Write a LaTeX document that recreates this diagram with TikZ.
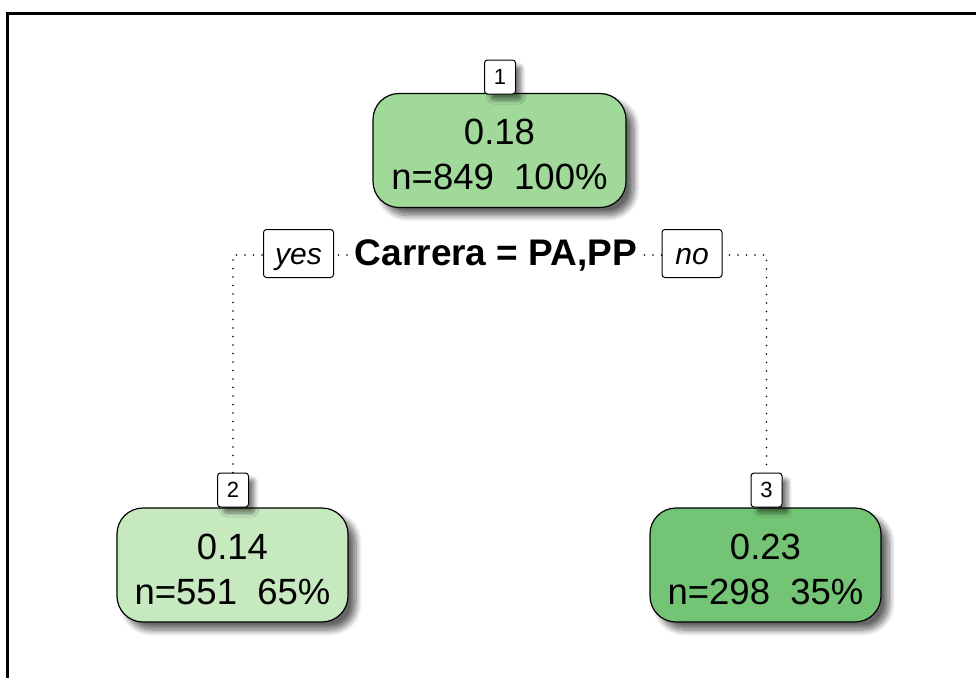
\documentclass[tikz,border=0pt]{standalone}
\usepackage{fontspec}
\setmainfont{Liberation Sans}
\usetikzlibrary{shadows.blur}

\definecolor{rootgreen}{HTML}{A1D99B}
\definecolor{lightgreen}{HTML}{C7E9C0}
\definecolor{darkgreen}{HTML}{74C476}

\tikzset{
  frame/.style={line width=3pt},
  leaf/.style={draw, line width=1.2pt, rounded corners=26pt,
    minimum width=231pt, minimum height=114pt, align=center,
    font=\fontsize{36.5}{45}\selectfont, text height=78pt, text depth=0pt,
    blur shadow={shadow xshift=8pt, shadow yshift=-8pt, shadow blur steps=10,
      shadow blur radius=6pt, shadow opacity=60}},
  numbox/.style={draw, fill=white, line width=1pt, rounded corners=3pt,
    minimum width=31pt, minimum height=34pt, inner sep=0pt,
    font=\fontsize{22}{22}\selectfont,
    blur shadow={shadow xshift=6pt, shadow yshift=-6pt, shadow blur steps=6,
      shadow blur radius=4pt, shadow opacity=50}},
  sidebox/.style={draw, fill=white, line width=1pt, rounded corners=3pt,
    minimum height=48pt, inner sep=0pt, text height=21pt, text depth=0pt,
    font=\fontsize{30}{30}\selectfont\itshape},
  branch/.style={line width=1.8pt, line cap=round, dash pattern=on 0pt off 8.5pt}
}

\begin{document}
\begin{tikzpicture}
    [x=1pt, y=-1pt]

    \useasboundingbox (0,0) rectangle (976,678);
    \draw [frame] (7,678) |- (976,13);

    % tree nodes
    \node [leaf, fill=rootgreen, minimum width=253pt] at (499.5, 150.5) (n1) {0.18\\n=849\ \ 100\%};
    \node [leaf, fill=lightgreen] at (232.5, 565) (n2) {0.14\\n=551\ \ 65\%};
    \node [leaf, fill=darkgreen] at (765.5, 565) (n3) {0.23\\n=298\ \ 35\%};

    \node [numbox] at (500, 77) (n1lab) {1};
    \node [numbox] at (233, 490) (n2lab) {2};
    \node [numbox] at (766.5, 490) (n3lab) {3};

    % split
    \coordinate (split) at (500, 255);
    \draw [branch] (n2lab.north) |- (split) -| (n3lab.north);

    \node [fill=white, inner xsep=4pt, font=\fontsize{37}{37}\selectfont\bfseries] at (496, 255) (cond) {Carrera = PA,PP};
    \node [sidebox, minimum width=70pt] at (298.5, 253.5) (yes) {yes};
    \node [sidebox, minimum width=60pt] at (692, 253.5) (no) {no};

  \end{tikzpicture}
\end{document}
